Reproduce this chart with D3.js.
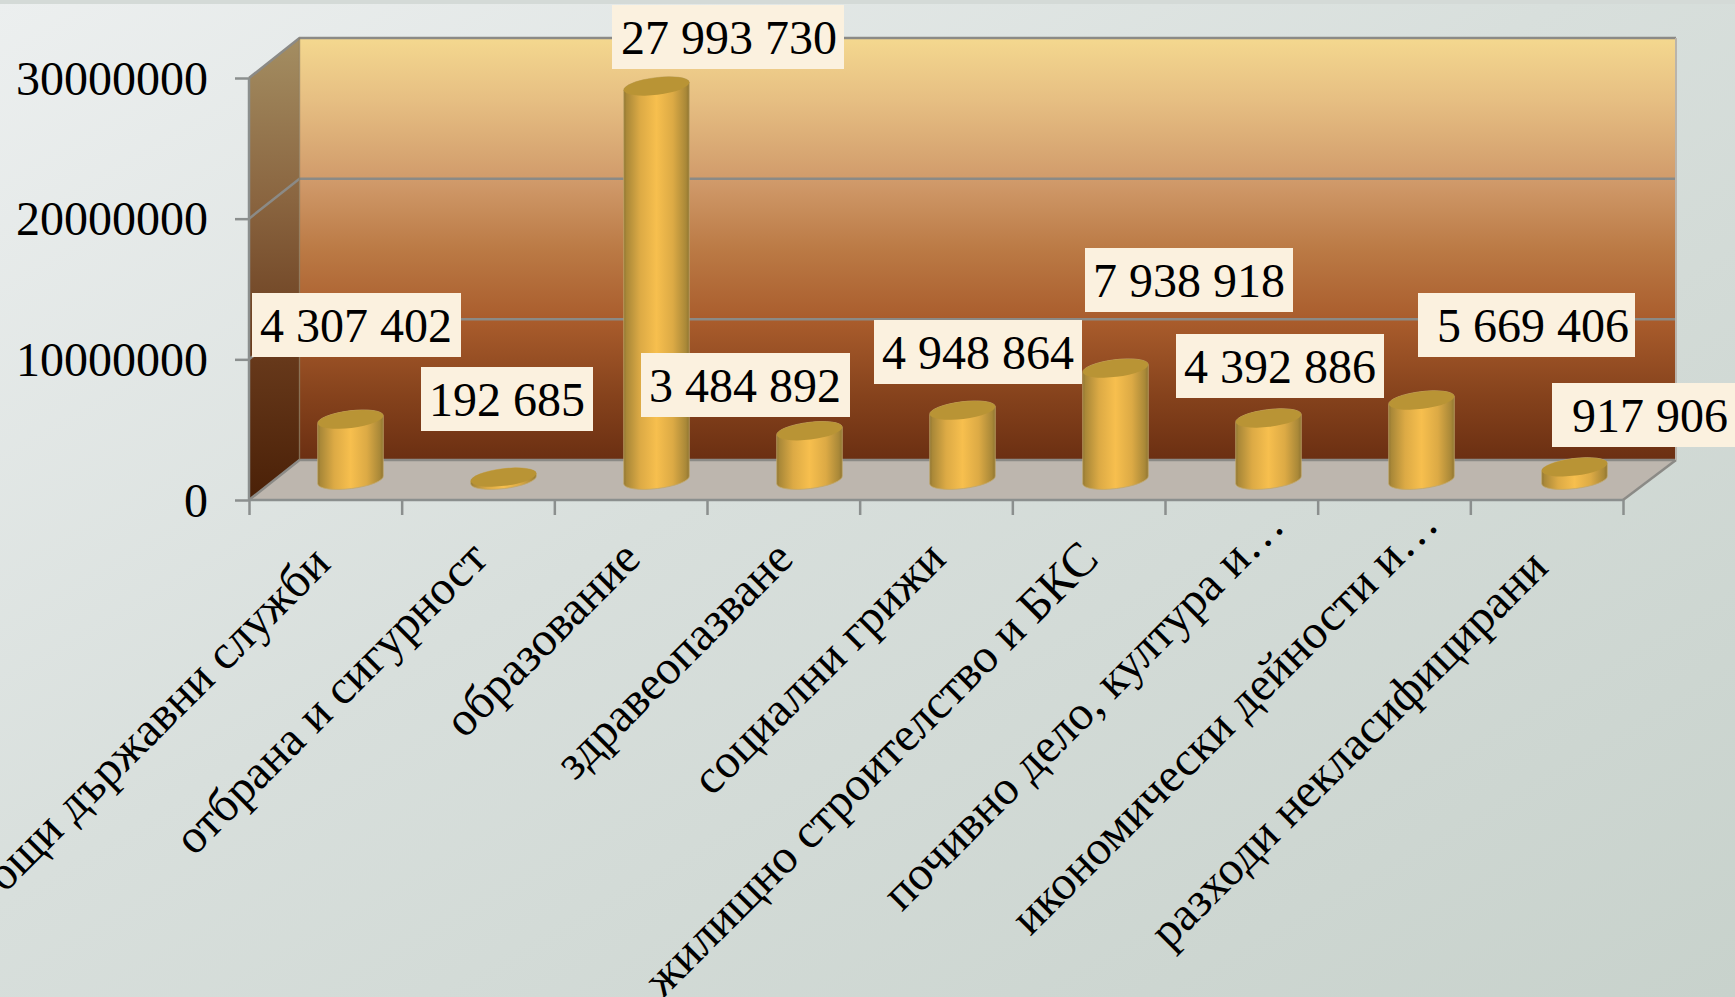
<!DOCTYPE html>
<html lang="bg">
<head>
  <meta charset="UTF-8" />
  <title>Разходи по функции</title>
  <script src="https://d3js.org/d3.v7.min.js"></script>
  <style>
    html, body { margin: 0; padding: 0; overflow: hidden; }
    svg { display: block; font-family: "Liberation Serif", "Times New Roman", serif; font-size: 48px; }
    .axis path { display: none; }
    .axis line { stroke: #8b8f8e; stroke-width: 2.5px; }
    .axis text { font-size: 48px; fill: #000; font-family: "Liberation Serif", serif; }
    .grid { stroke: #8b8a86; stroke-width: 2.5px; fill: none; }
  </style>
</head>
<body>
  <svg width="1735" height="997"></svg>

  <script>
    const categories = [
      "общи държавни служби",
      "отбрана и сигурност",
      "образование",
      "здравеопазване",
      "социални грижи",
      "жилищно строителство и БКС",
      "почивно дело, култура и…",
      "икономически дейности и…",
      "разходи некласифицирани"
    ];
    const values = [4307402, 192685, 27993730, 3484892, 4948864, 7938918, 4392886, 5669406, 917906];
    const yTicks = [0, 10000000, 20000000, 30000000];

    // label boxes were placed by hand in the original, so they are kept apart from the data
    const labelBoxes = [
      { x: 252, y: 293, w: 209, pad: 8 },
      { x: 421, y: 367, w: 172, pad: 8 },
      { x: 612, y: 5, w: 232, pad: 9 },
      { x: 641, y: 353, w: 209, pad: 8 },
      { x: 874, y: 320, w: 208, pad: 8 },
      { x: 1085, y: 248, w: 208, pad: 8 },
      { x: 1176, y: 334, w: 208, pad: 8 },
      { x: 1418, y: 293, w: 217, pad: 19 },
      { x: 1552, y: 383, w: 183, pad: 20 }
    ];
    const boxHeight = 64;
    // slide along the rotated text, px
    const labelNudge = [-7, 0, 0, 0, 0, 0, 47, 49, -12];

    const frontLeft = 249, frontRight = 1623, backLeft = 299.5, backRight = 1676;
    const depthY = 40;

    const x = d3.scaleBand().domain(categories).range([frontLeft, frontRight]);
    const xBar = d3.scaleBand().domain(categories).range([frontLeft + 25, frontRight + 28]);
    const xEdge = d3.scaleLinear().domain([0, categories.length]).range([frontLeft, frontRight]);
    const y = d3.scaleLinear().domain([0, 30000000]).range([500, 78]);

    const fmt = d3.formatLocale({ decimal: ".", thousands: " ", grouping: [3], currency: ["", ""] }).format(",d");

    const svg = d3.select("svg");
    const defs = svg.append("defs");

    function gradient(id, attrs, stops) {
      const g = defs.append("linearGradient").attr("id", id);
      Object.entries(attrs).forEach(([k, v]) => g.attr(k, v));
      stops.forEach(s => g.append("stop").attr("offset", s[0]).attr("stop-color", s[1]));
    }

    gradient("bg", { x1: 0, y1: 0, x2: 1, y2: 1 }, [[0, "#ecefef"], [0.45, "#d8dfdc"], [1, "#c8d2cc"]]);
    gradient("wall", { x1: 0, y1: 0, x2: 0, y2: 1 }, [
      [0, "#f4d88f"], [0.15, "#e6be82"], [0.34, "#d09a6a"], [0.5, "#bb7a45"],
      [0.67, "#a95c2c"], [0.85, "#85421c"], [1, "#6b2f12"]
    ]);
    gradient("side", { x1: 0, y1: 0, x2: 0, y2: 1 }, [
      [0, "#a48e62"], [0.35, "#8a6540"], [0.7, "#66381a"], [1, "#4a2007"]
    ]);
    gradient("cyl", { x1: 0, y1: 0, x2: 1, y2: 0 }, [
      [0, "#8f7430"], [0.04, "#a98838"], [0.25, "#dcaa45"], [0.5, "#f7bf4e"],
      [0.75, "#dcaa45"], [0.95, "#a98838"], [1, "#8f7430"]
    ]);

    svg.append("rect").attr("width", 1735).attr("height", 997).attr("fill", "url(#bg)");
    svg.append("rect").attr("width", 1735).attr("height", 4).attr("fill", "#d4dad7");

    // walls and floor
    const backY = v => y(v) - depthY;
    svg.append("rect")
      .attr("x", backLeft).attr("y", backY(30000000))
      .attr("width", backRight - backLeft).attr("height", y(0) - y(30000000))
      .attr("fill", "url(#wall)");
    svg.append("path")
      .attr("d", d3.line()([[frontLeft, y(30000000)], [backLeft, backY(30000000)], [backLeft, backY(0)], [frontLeft, y(0)]]) + "Z")
      .attr("fill", "url(#side)");
    svg.append("path")
      .attr("d", d3.line()([[frontLeft, y(0)], [backLeft, backY(0)], [backRight, backY(0)], [frontRight, y(0)]]) + "Z")
      .attr("fill", "#bdb6ae");

    // grid lines run along the side wall and then the back wall
    svg.append("g").selectAll("path").data(yTicks).join("path")
      .attr("class", "grid")
      .attr("d", d => d3.line()([[frontLeft, y(d)], [backLeft, backY(d)], [backRight, backY(d)]]));
    svg.append("path").attr("class", "grid")
      .attr("d", d3.line()([[frontRight, y(0)], [backRight, backY(0)]]));
    svg.append("line").attr("x1", backRight).attr("x2", backRight)
      .attr("y1", backY(30000000)).attr("y2", backY(0))
      .attr("stroke", "#b9b4ac").attr("stroke-width", 2);
    svg.append("line").attr("x1", backLeft).attr("x2", backLeft)
      .attr("y1", backY(30000000)).attr("y2", backY(0))
      .attr("stroke", "#8b7a5c").attr("stroke-opacity", 0.6).attr("stroke-width", 1.5);

    // axes
    const yAxis = svg.append("g").attr("class", "axis")
      .attr("transform", `translate(${frontLeft},0)`)
      .call(d3.axisLeft(y).tickValues(yTicks).tickFormat(d3.format("d")).tickSize(14).tickPadding(27));
    yAxis.select(".domain").remove();
    yAxis.selectAll("text").attr("dy", "0.34em");
    svg.append("line").attr("x1", frontLeft).attr("x2", frontLeft).attr("y1", y(30000000)).attr("y2", y(0))
      .attr("stroke", "#8b8f8e").attr("stroke-width", 2.5);

    const xAxis = svg.append("g").attr("class", "axis")
      .attr("transform", `translate(0,${y(0)})`)
      .call(d3.axisBottom(xEdge).ticks(categories.length).tickFormat("").tickSize(15));
    svg.append("line").attr("x1", frontLeft).attr("x2", frontRight).attr("y1", y(0)).attr("y2", y(0))
      .attr("stroke", "#8b8f8e").attr("stroke-width", 2.5);

    svg.append("g").selectAll("text").data(categories).join("text")
      .attr("text-anchor", "end")
      .attr("transform", d => `translate(${x(d) + x.bandwidth() / 2 + 12},${y(0) + 61}) rotate(-45)`)
      .attr("dx", (d, i) => labelNudge[i])
      .attr("fill", "#000")
      .text(d => d);

    // cylinders stand in the middle of the floor depth
    const rx = 33, ry = 8.6, tilt = 7;
    const cos = Math.cos(tilt * Math.PI / 180), sin = Math.sin(tilt * Math.PI / 180);
    const cx = d => xBar(d) + xBar.bandwidth() / 2;
    const baseY = y(0) - depthY / 2;
    const topY = v => baseY - (y(0) - y(v));
    const rows = categories.map((c, i) => ({ c, v: values[i] }));

    const bars = svg.append("g").selectAll("g").data(rows).join("g");
    bars.append("path")
      .attr("fill", "url(#cyl)")
      .attr("stroke", "#c2a76a").attr("stroke-width", 0.8)
      .attr("d", d => {
        const c = cx(d.c), t = topY(d.v);
        return `M${c - rx * cos},${t + rx * sin}L${c - rx * cos},${baseY + rx * sin}` +
          `A${rx},${ry} ${-tilt} 0 0 ${c + rx * cos},${baseY - rx * sin}` +
          `L${c + rx * cos},${t - rx * sin}` +
          `A${rx},${ry} ${-tilt} 0 0 ${c - rx * cos},${t + rx * sin}Z`;
      });
    bars.append("ellipse")
      .attr("rx", rx).attr("ry", ry)
      .attr("fill", "#b99435")
      .attr("transform", d => `translate(${cx(d.c)},${topY(d.v)}) rotate(${-tilt})`);

    // value labels
    const labels = svg.append("g").selectAll("g").data(rows).join("g")
      .attr("transform", (d, i) => `translate(${labelBoxes[i].x},${labelBoxes[i].y})`);
    labels.append("rect")
      .attr("width", (d, i) => labelBoxes[i].w).attr("height", boxHeight)
      .attr("fill", "#fbf1df");
    labels.append("text")
      .attr("x", (d, i) => labelBoxes[i].pad).attr("y", 49)
      .attr("fill", "#000")
      .text(d => fmt(d.v));
  </script>
</body>
</html>
